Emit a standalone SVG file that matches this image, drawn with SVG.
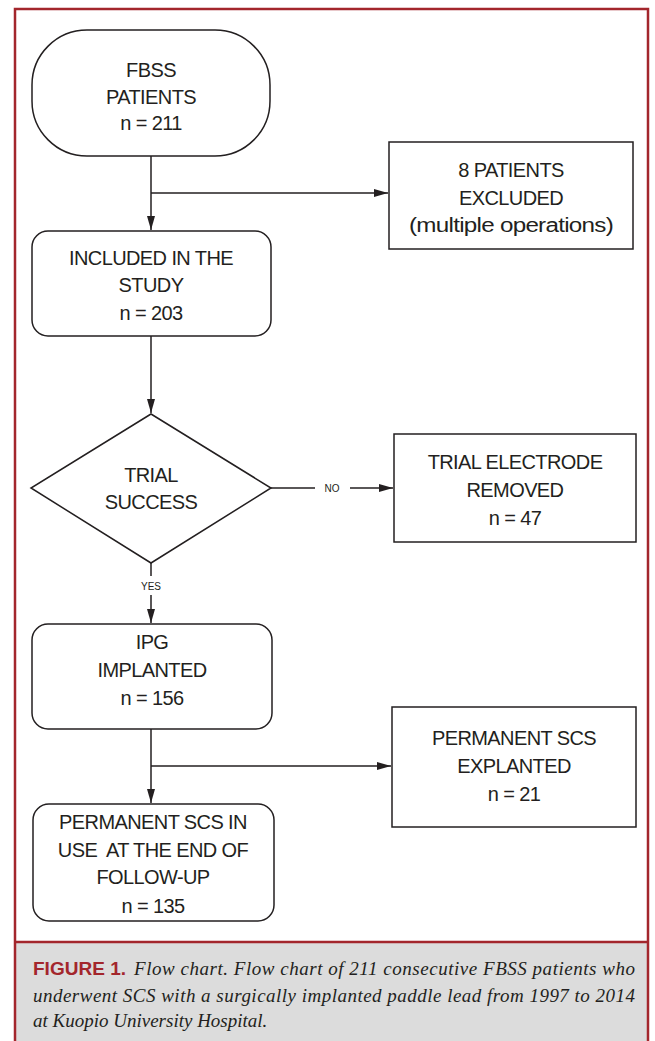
<svg xmlns="http://www.w3.org/2000/svg" width="655" height="1041" viewBox="0 0 655 1041">
<defs>
<style>
.box{fill:#fff;stroke:#231f20;stroke-width:1.5}
.ln{fill:none;stroke:#231f20;stroke-width:1.5}
.t{font-family:"Liberation Sans",Arial,sans-serif;font-size:20px;fill:#231f20;text-anchor:middle;letter-spacing:-0.6px}
.s{font-family:"Liberation Sans",Arial,sans-serif;font-size:10px;fill:#231f20;text-anchor:middle}
.cap{font-family:"Liberation Serif","Times New Roman",serif;font-style:italic;font-size:19px;fill:#231f20}
.fig{font-family:"Liberation Sans",Arial,sans-serif;font-weight:bold;font-size:18px;fill:#a3262c}
</style>
<marker id="ah" viewBox="0 0 14 8" refX="14" refY="4" markerWidth="14" markerHeight="8" markerUnits="userSpaceOnUse" orient="auto">
<path d="M0,0 L14,4 L0,8 Z" fill="#231f20"/>
</marker>
</defs>
<rect x="0" y="0" width="655" height="1041" fill="#fff"/>
<rect x="15" y="942" width="633" height="100" fill="#dcdcdc"/>
<path d="M15,1041 V9 H648 V1041 M15,942 H648" fill="none" stroke="#a3262c" stroke-width="2.5"/>

<g id="connectors">
<path class="ln" d="M151,156 V230" marker-end="url(#ah)"/>
<path class="ln" d="M151,193 H388" marker-end="url(#ah)"/>
<path class="ln" d="M151,336 V413" marker-end="url(#ah)"/>
<path class="ln" d="M271,488 H315"/>
<path class="ln" d="M350,488 H393" marker-end="url(#ah)"/>
<text class="s" x="332" y="492">NO</text>
<path class="ln" d="M151,563 V576"/>
<path class="ln" d="M151,595 V623" marker-end="url(#ah)"/>
<text class="s" x="151" y="590">YES</text>
<path class="ln" d="M151,729 V803" marker-end="url(#ah)"/>
<path class="ln" d="M151,766 H391" marker-end="url(#ah)"/>
</g>

<g id="fbss">
<rect class="box" x="32" y="30" width="238" height="126" rx="55" ry="55"/>
<text class="t" x="151" y="77">FBSS</text>
<text class="t" x="151" y="104">PATIENTS</text>
<text class="t" x="151" y="130">n = 211</text>
</g>

<g id="excluded">
<rect class="box" x="389" y="142" width="244" height="107"/>
<text class="t" x="511" y="177">8 PATIENTS</text>
<text class="t" x="511" y="205">EXCLUDED</text>
<text class="t" x="511" y="232" textLength="204" lengthAdjust="spacingAndGlyphs">(multiple operations)</text>
</g>

<g id="included">
<rect class="box" x="32" y="231" width="239" height="105" rx="16" ry="16"/>
<text class="t" x="151" y="265">INCLUDED IN THE</text>
<text class="t" x="151" y="292">STUDY</text>
<text class="t" x="151" y="320">n = 203</text>
</g>

<g id="trial">
<polygon class="box" points="151,414 271,488 151,563 31,488"/>
<text class="t" x="151" y="482">TRIAL</text>
<text class="t" x="151" y="509">SUCCESS</text>
</g>

<g id="removed">
<rect class="box" x="394" y="434" width="242" height="108"/>
<text class="t" x="515" y="469">TRIAL ELECTRODE</text>
<text class="t" x="515" y="497">REMOVED</text>
<text class="t" x="515" y="525">n = 47</text>
</g>

<g id="ipg">
<rect class="box" x="32" y="624" width="240" height="105" rx="16" ry="16"/>
<text class="t" x="152" y="649">IPG</text>
<text class="t" x="152" y="677">IMPLANTED</text>
<text class="t" x="152" y="705">n = 156</text>
</g>

<g id="explanted">
<rect class="box" x="392" y="707" width="244" height="120"/>
<text class="t" x="514" y="745">PERMANENT SCS</text>
<text class="t" x="514" y="773">EXPLANTED</text>
<text class="t" x="514" y="801">n = 21</text>
</g>

<g id="inuse">
<rect class="box" x="33" y="804" width="241" height="117" rx="16" ry="16"/>
<text class="t" x="153" y="829">PERMANENT SCS IN</text>
<text class="t" x="153" y="857" xml:space="preserve">USE  AT THE END OF</text>
<text class="t" x="153" y="884">FOLLOW-UP</text>
<text class="t" x="153" y="913">n = 135</text>
</g>

<g id="caption">
<text class="fig" x="33" y="975" textLength="93" lengthAdjust="spacingAndGlyphs">FIGURE 1.</text>
<text class="cap" x="134" y="975" textLength="501">Flow chart. Flow chart of 211 consecutive FBSS patients who</text>
<text class="cap" x="33" y="1002" textLength="602">underwent SCS with a surgically implanted paddle lead from 1997 to 2014</text>
<text class="cap" x="33" y="1027">at Kuopio University Hospital.</text>
</g>
</svg>
